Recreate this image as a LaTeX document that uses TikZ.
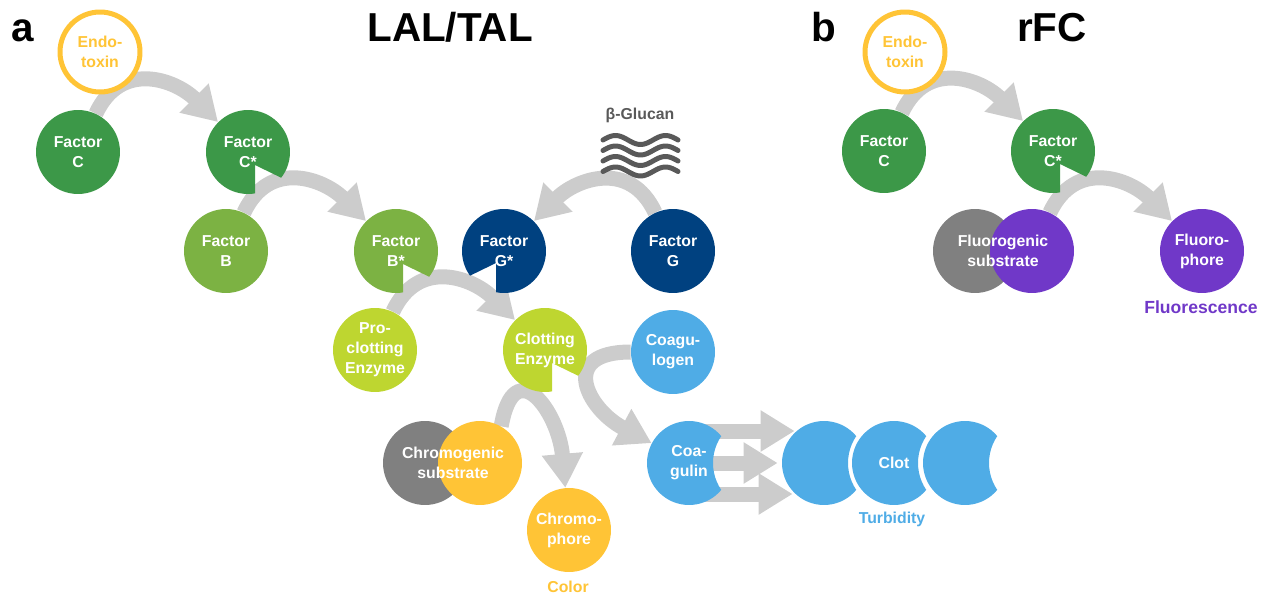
\documentclass[tikz,border=0pt]{standalone}
\usepackage{fontspec}
\setmainfont{Liberation Sans}
\usetikzlibrary{arrows.meta, calc}

\definecolor{gold}{RGB}{255,196,54}
\definecolor{dkgreen}{RGB}{60,152,72}
\definecolor{ltgreen}{RGB}{124,178,67}
\definecolor{lime}{RGB}{190,214,48}
\definecolor{navy}{RGB}{0,65,128}
\definecolor{sky}{RGB}{79,172,230}
\definecolor{subgray}{RGB}{128,128,128}
\definecolor{fluopurple}{RGB}{112,56,200}
\definecolor{arrowgray}{RGB}{204,204,204}
\definecolor{glucgray}{RGB}{89,89,89}

\pgfdeclarelayer{bg}
\pgfsetlayers{bg,main}

\tikzset{
    disc/.style={circle, minimum size=1.68cm, inner sep=0pt, text=white, align=center,
        font=\bfseries\fontsize{9}{11.3}\selectfont},
    ball/.style={disc, fill=#1},
    pacR/.style={disc, path picture={
        \fill[#1, even odd rule] (path picture bounding box.center) circle[radius=43]
            ([shift={(7,-13)}]path picture bounding box.center) -- +(-90:60) -- +(-58:60) -- +(-26:60) -- cycle;}},
    pacL/.style={disc, path picture={
        \fill[#1, even odd rule] (path picture bounding box.center) circle[radius=43]
            ([shift={(-8,-12)}]path picture bounding box.center) -- +(-90:60) -- +(-122:60) -- +(-154:60) -- cycle;}},
    bite/.style={disc, path picture={
        \fill[#1, even odd rule] (path picture bounding box.center) circle[radius=43]
            ([shift={(72,0)}]path picture bounding box.center) circle[radius=48];}},
    ring/.style={circle, minimum size=1.6cm, inner sep=0pt, draw=gold, line width=0.1cm, fill=white,
        text=gold, align=center, font=\bfseries\fontsize{9}{11.3}\selectfont},
    arr/.style={draw=arrowgray, line width=0.3cm, -{Triangle[length=0.68cm, width=0.78cm]}},
    lbl/.style={font=\bfseries\fontsize{9}{11}\selectfont},
    ttl/.style={font=\bfseries\fontsize{23}{26}\selectfont, anchor=base},
    wave/.style={draw=glucgray, line width=0.1cm, line cap=round}
}

\begin{document}
\begin{tikzpicture}[x=0.02cm, y=0.02cm]
        \useasboundingbox (0,0) rectangle (1271,-598);

        % titles
        \node[ttl] (la) at (23,-42) {a};
        \node[ttl] (lal) at (450,-42) {LAL/TAL};
        \node[ttl] (lb) at (824,-42) {b};
        \node[ttl] (rfc) at (1052,-42) {rFC};

        % LAL/TAL cascade
        \node[ring] (endoA) at (100,-52) {Endo-\\toxin};
        \node[ball=dkgreen] (fcA) at (78,-152) {Factor\\C};
        \node[pacR=dkgreen] (fcsA) at (248,-152) {Factor\\C*};
        \node[ball=ltgreen] (fbA) at (226,-251) {Factor\\B};
        \node[pacR=ltgreen] (fbsA) at (396,-251) {Factor\\B*};
        \node[pacL=navy] (fgsA) at (504,-251) {Factor\\G*};
        \node[ball=navy] (fgA) at (673,-251) {Factor\\G};

        % beta glucan
        \node[lbl, text=glucgray] (glc) at (640,-115) {β-Glucan};
        \foreach \y in {140,150.5,161,171.5}
            \draw[wave] plot[domain=0:75, samples=40] ({603+\x}, {-\y+4.5*sin(7.2*\x)});

        \node[ball=lime] (proA) at (375,-350) {Pro-\\clotting\\Enzyme};
        \node[pacR=lime] (ceA) at (545,-350) {Clotting\\Enzyme};
        \node[ball=sky] (cglgA) at (673,-352) {Coagu-\\logen};

        % chromogenic read-out
        \node[ball=subgray] (chg) at (425,-463) {};
        \node[ball=gold] (chy) at (480,-463) {};
        \node[lbl, text=white, align=center] (cht) at (453,-463) {Chromogenic\\substrate};
        \node[ball=gold] (chp) at (569,-530) {Chromo-\\phore};
        \node[lbl, text=gold] (col) at (568,-587) {Color};

        % clot
        \node[bite=sky] (cglA) at (689,-463) {Coa-\\gulin};
        \node[bite=sky] (clot1) at (824,-463) {};
        \node[bite=sky] (clot2) at (894,-463) {Clot};
        \node[bite=sky] (clot3) at (965,-463) {};
        \node[lbl, text=sky] (turb) at (892,-519) {Turbidity};

        % rFC
        \node[ring] (endoB) at (905,-52) {Endo-\\toxin};
        \node[ball=dkgreen] (fcB) at (884,-151) {Factor\\C};
        \node[pacR=dkgreen] (fcsB) at (1053,-151) {Factor\\C*};
        \node[ball=subgray] (flg) at (975,-251) {};
        \node[ball=fluopurple] (flp) at (1032,-251) {};
        \node[lbl, text=white, align=center] (flt) at (1003,-251) {Fluorogenic\\substrate};
        \node[ball=fluopurple] (flph) at (1202,-251) {Fluoro-\\phore};
        \node[lbl, text=fluopurple, font=\bfseries\fontsize{10}{12}\selectfont] (fluo) at (1201,-307) {Fluorescence};

        % the arrows, behind the discs
        \begin{pgfonlayer}{bg}
            \draw[arr] (fcA) to[out=65, in=135, looseness=1.25] (fcsA);
            \draw[arr] (fbA) to[out=65, in=135, looseness=1.25] (fbsA);
            \draw[arr] (proA) to[out=65, in=135, looseness=1.25] (ceA);
            \draw[arr] (fgA) to[out=115, in=45, looseness=1.25] (fgsA);
            \draw[arr] (chy.60) to[out=80, in=95, looseness=2.2] (chp);
            \draw[arr] (cglgA) to[out=180, in=152, looseness=2] (cglA);
            \draw[arr] ([shift={(0,32)}]cglA.center) -- ([shift={(13,32)}]clot1.west);
            \draw[arr] (cglA.center) -- ([shift={(-4,0)}]clot1.west);
            \draw[arr] ([shift={(0,-31)}]cglA.center) -- ([shift={(11,-31)}]clot1.west);
            \draw[arr] (fcB) to[out=65, in=135, looseness=1.25] (fcsB);
            \draw[arr] (flp) to[out=65, in=135, looseness=1.25] (flph);
        \end{pgfonlayer}
    \end{tikzpicture}
\end{document}
